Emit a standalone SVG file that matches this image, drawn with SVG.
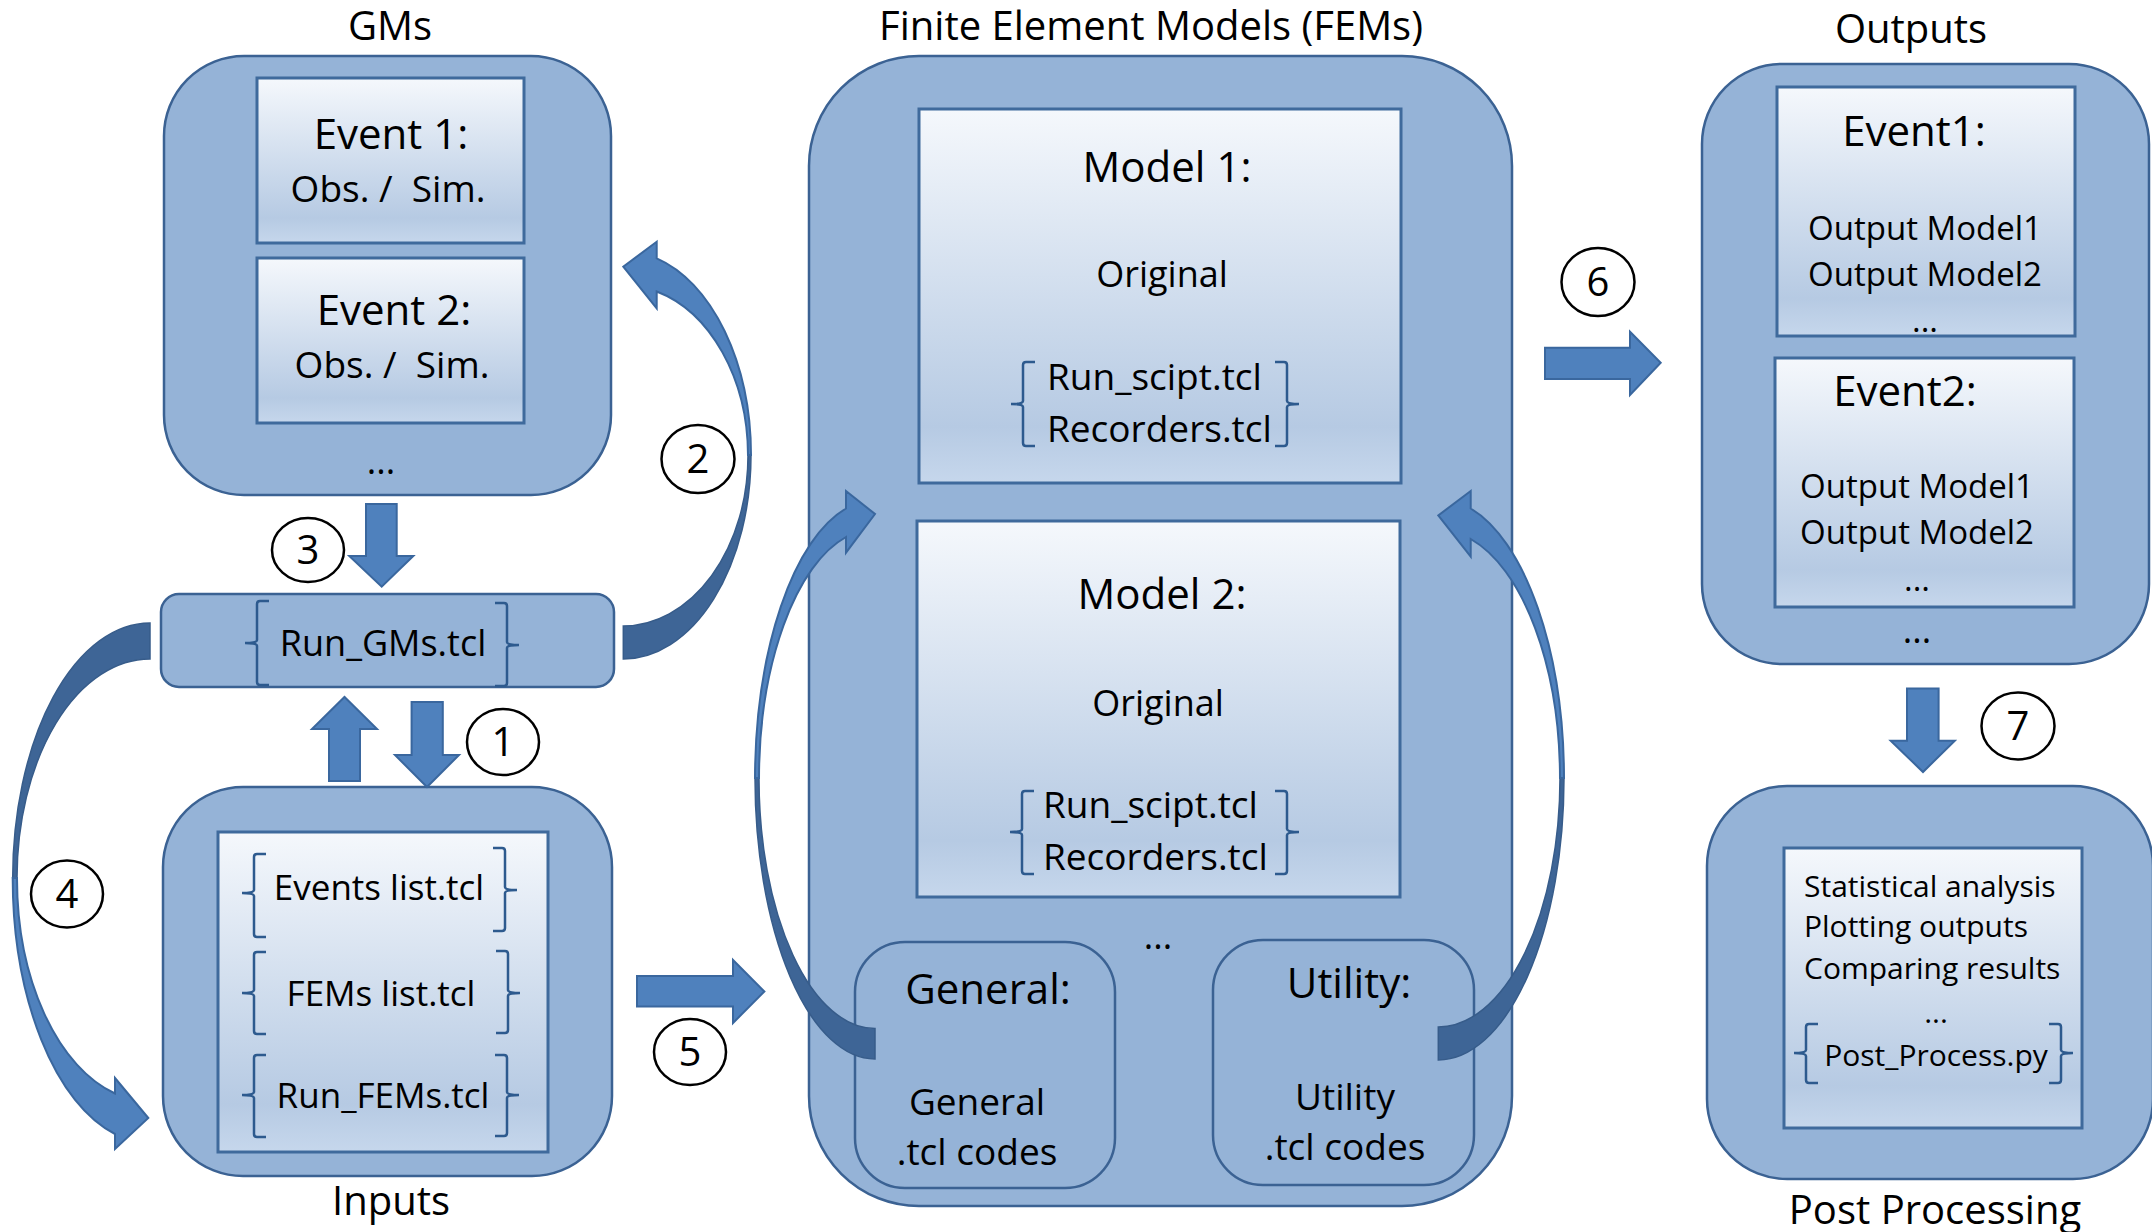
<svg xmlns="http://www.w3.org/2000/svg" width="2152" height="1232" viewBox="0 0 2152 1232">
<defs>
<linearGradient id="inner" x1="0" y1="0" x2="0" y2="1">
<stop offset="0" stop-color="#F5F8FC"/>
<stop offset="0.85" stop-color="#B6CAE3"/>
<stop offset="1" stop-color="#C6D7EC"/>
</linearGradient>
<style>
text{font-family:"Open Sans","Noto Sans","Liberation Sans",sans-serif;fill:#000}
.outer{fill:#95B3D7;stroke:#3B6293;stroke-width:2.5}
.inner{fill:url(#inner);stroke:#3F6A9C;stroke-width:3}
.sub{fill:#95B3D7;stroke:#3B6293;stroke-width:2.5}
.brace{fill:none;stroke:#2D5A8E;stroke-width:2.5}
.blk{fill:#4F81BD;stroke:#3A679E;stroke-width:2}
.dark{fill:#3E6596;stroke:#375C8A;stroke-width:1.5}
.num{fill:#fff;stroke:#000;stroke-width:2.5}
.t40{font-size:40px}
.t42{font-size:42px}
.t37{font-size:37px}
.t36{font-size:36px}
.t35{font-size:35px}
.t33{font-size:33px}
.t30{font-size:30px}
.c{text-anchor:middle}
</style>
</defs>
<rect width="2152" height="1232" fill="#fff"/>

<g id="gms">
<text class="t40 c" x="390" y="40">GMs</text>
<rect class="outer" x="164" y="56" width="447" height="439" rx="80"/>
<rect class="inner" x="257" y="78" width="267" height="165"/>
<text class="t42 c" x="391" y="149">Event 1:</text>
<text class="t37 c" x="388" y="202" xml:space="preserve">Obs. /  Sim.</text>
<rect class="inner" x="257" y="258" width="267" height="165"/>
<text class="t42 c" x="394" y="325">Event 2:</text>
<text class="t37 c" x="392" y="378" xml:space="preserve">Obs. /  Sim.</text>
<text class="t36 c" x="381" y="474">...</text>
</g>

<g id="run_gms">
<rect class="sub" x="161" y="594" width="453" height="93" rx="18"/>
<path class="brace" d="M269,601 L260,601 Q257,601 257,604 L257,640 Q257,643 245,643 Q257,643 257,646 L257,682 Q257,685 260,685 L269,685"/>
<path class="brace" d="M495,603 L504,603 Q507,603 507,606 L507,642 Q507,645 519,645 Q507,645 507,648 L507,683 Q507,686 504,686 L495,686"/>
<text class="t36 c" x="383" y="656">Run_GMs.tcl</text>
</g>

<g id="inputs">
<rect class="outer" x="163" y="787" width="449" height="389" rx="80"/>
<rect class="inner" x="218" y="832" width="330" height="320"/>
<path class="brace" d="M266,854 L257,854 Q254,854 254,857 L254,890 Q254,893 242,893 Q254,893 254,896 L254,934 Q254,937 257,937 L266,937"/>
<path class="brace" d="M493,848 L502,848 Q505,848 505,851 L505,887 Q505,890 517,890 Q505,890 505,893 L505,928 Q505,931 502,931 L493,931"/>
<text class="t35 c" x="379" y="900">Events list.tcl</text>
<path class="brace" d="M266,952 L257,952 Q254,952 254,955 L254,990 Q254,993 242,993 Q254,993 254,996 L254,1031 Q254,1034 257,1034 L266,1034"/>
<path class="brace" d="M496,951 L505,951 Q508,951 508,954 L508,990 Q508,993 520,993 Q508,993 508,996 L508,1030 Q508,1033 505,1033 L496,1033"/>
<text class="t35 c" x="381" y="1006">FEMs list.tcl</text>
<path class="brace" d="M266,1055 L257,1055 Q254,1055 254,1058 L254,1092 Q254,1095 242,1095 Q254,1095 254,1098 L254,1134 Q254,1137 257,1137 L266,1137"/>
<path class="brace" d="M495,1055 L504,1055 Q507,1055 507,1058 L507,1092 Q507,1095 519,1095 Q507,1095 507,1098 L507,1133 Q507,1136 504,1136 L495,1136"/>
<text class="t35 c" x="383" y="1108">Run_FEMs.tcl</text>
<text class="t40 c" x="391" y="1215">Inputs</text>
</g>

<g id="fems">
<text class="t40 c" x="1151" y="40">Finite Element Models (FEMs)</text>
<rect class="outer" x="809" y="56" width="703" height="1150" rx="110"/>
</g>

<g id="model1">
<rect class="inner" x="919" y="109" width="482" height="374"/>
<text class="t42 c" x="1167" y="182">Model 1:</text>
<text class="t36 c" x="1162" y="287">Original</text>
<path class="brace" d="M1035,362 L1026,362 Q1023,362 1023,365 L1023,401 Q1023,404 1011,404 Q1023,404 1023,407 L1023,443 Q1023,446 1026,446 L1035,446"/>
<path class="brace" d="M1275,362 L1284,362 Q1287,362 1287,365 L1287,401 Q1287,404 1299,404 Q1287,404 1287,407 L1287,443 Q1287,446 1284,446 L1275,446"/>
<text class="t37" x="1047" y="390">Run_scipt.tcl</text>
<text class="t37" x="1047" y="442">Recorders.tcl</text>
</g>

<g id="model2">
<rect class="inner" x="917" y="521" width="483" height="376"/>
<text class="t42 c" x="1162" y="609">Model 2:</text>
<text class="t36 c" x="1158" y="716">Original</text>
<path class="brace" d="M1034,791 L1025,791 Q1022,791 1022,794 L1022,829 Q1022,832 1010,832 Q1022,832 1022,835 L1022,871 Q1022,874 1025,874 L1034,874"/>
<path class="brace" d="M1275,791 L1284,791 Q1287,791 1287,794 L1287,829 Q1287,832 1299,832 Q1287,832 1287,835 L1287,871 Q1287,874 1284,874 L1275,874"/>
<text class="t37" x="1043" y="818">Run_scipt.tcl</text>
<text class="t37" x="1043" y="870">Recorders.tcl</text>
</g>

<g id="fems_more">
<text class="t36 c" x="1158" y="949">...</text>
</g>

<g id="general">
<rect class="sub" x="855" y="942" width="260" height="246" rx="50"/>
<text class="t42 c" x="988" y="1004">General:</text>
<text class="t37 c" x="977" y="1115">General</text>
<text class="t37 c" x="977" y="1165">.tcl codes</text>
</g>

<g id="utility">
<rect class="sub" x="1213" y="940" width="261" height="245" rx="50"/>
<text class="t42 c" x="1349" y="998">Utility:</text>
<text class="t37 c" x="1345" y="1110">Utility</text>
<text class="t37 c" x="1345" y="1160">.tcl codes</text>
</g>

<g id="outputs">
<text class="t40 c" x="1911" y="43">Outputs</text>
<rect class="outer" x="1702" y="64" width="447" height="600" rx="80"/>
<rect class="inner" x="1777" y="87" width="298" height="249"/>
<text class="t42 c" x="1914" y="146">Event1:</text>
<text class="t33 c" x="1925" y="240">Output Model1</text>
<text class="t33 c" x="1925" y="286">Output Model2</text>
<text class="t33 c" x="1925" y="332">...</text>
<rect class="inner" x="1775" y="358" width="299" height="249"/>
<text class="t42 c" x="1905" y="406">Event2:</text>
<text class="t33 c" x="1917" y="498">Output Model1</text>
<text class="t33 c" x="1917" y="544">Output Model2</text>
<text class="t33 c" x="1917" y="591">...</text>
<text class="t36 c" x="1917" y="643">...</text>
</g>

<g id="post">
<rect class="outer" x="1707" y="786" width="446" height="393" rx="80"/>
<rect class="inner" x="1784" y="848" width="298" height="280"/>
<text class="t30" x="1804" y="897">Statistical analysis</text>
<text class="t30" x="1804" y="937">Plotting outputs</text>
<text class="t30" x="1804" y="979">Comparing results</text>
<text class="t30 c" x="1936" y="1023">...</text>
<path class="brace" d="M1818,1024 L1809,1024 Q1806,1024 1806,1027 L1806,1050 Q1806,1053 1794,1053 Q1806,1053 1806,1056 L1806,1080 Q1806,1083 1809,1083 L1818,1083"/>
<path class="brace" d="M2049,1024 L2058,1024 Q2061,1024 2061,1027 L2061,1050 Q2061,1053 2073,1053 Q2061,1053 2061,1056 L2061,1080 Q2061,1083 2058,1083 L2049,1083"/>
<text class="t30 c" x="1936" y="1066">Post_Process.py</text>
<text class="t40 c" x="1935" y="1224">Post Processing</text>
</g>

<g id="connectors">
<path class="blk" d="M366,504 H396.7 V556 H413.3 L381.7,586.7 L349.3,556 H366 Z"/>
<path class="blk" d="M411.6,702 H442.8 V755 H459 L427,787 L395,755 H411.6 Z"/>
<path class="blk" d="M329,781 V729 H312 L344.5,697 L377,729 H360 V781 Z"/>
<path class="blk" d="M637,976 H733 V960 L764.4,991.5 L733,1023 V1006.4 H637 Z"/>
<path class="blk" d="M1545,347.7 H1630 V331.7 L1660.7,362.7 L1630,395 V379 H1545 Z"/>
<path class="blk" d="M1907,688.6 H1938.6 V740.7 H1954.8 L1923,772 L1890.7,740.7 H1907 Z"/>

<path class="dark" d="M623.3,626 A125,170.5 0 0 0 748,455 L751,455 A128,204 0 0 1 623.3,659 Z"/>
<path class="blk" d="M656.7,241.7 L623.3,266.7 L656.7,308.3 L656.7,291.5 A125,170.5 0 0 1 748,455 L751,455 A128,204 0 0 0 656.7,258.3 Z"/>

<path class="dark" d="M150,623 A137.3,255 0 0 0 12.7,878 L17,878 A133,219 0 0 1 150,659 Z"/>
<path class="blk" d="M115,1078 L148.3,1118 L115,1149 L115,1134 A137.3,264.7 0 0 1 12.7,878 L17,878 A133,223 0 0 0 115,1093.5 Z"/>

<path class="dark" d="M875,1028.5 A116,250 0 0 1 759,778 L755,778 A120,281 0 0 0 875,1059 Z"/>
<path class="blk" d="M846,491 L875,514 L846,552.7 L846,537 A116,250 0 0 0 759,778 L755,778 A120,280 0 0 1 846,508.5 Z"/>

<path class="dark" d="M1438.3,1027 A122,249 0 0 0 1560,778 L1564,778 A126,282 0 0 1 1438.3,1060 Z"/>
<path class="blk" d="M1470.7,491 L1438.3,515.4 L1470.7,556.5 L1470.7,539 A122,249 0 0 1 1560,778 L1564,778 A126,280 0 0 0 1470.7,508.5 Z"/>

<ellipse class="num" cx="503" cy="742" rx="36" ry="33"/>
<text class="t40 c" x="503" y="756">1</text>
<ellipse class="num" cx="698" cy="459" rx="36.5" ry="34"/>
<text class="t40 c" x="698" y="473">2</text>
<ellipse class="num" cx="308" cy="550" rx="36" ry="32"/>
<text class="t40 c" x="308" y="564">3</text>
<ellipse class="num" cx="67" cy="894" rx="36" ry="33.5"/>
<text class="t40 c" x="67" y="908">4</text>
<ellipse class="num" cx="690" cy="1052" rx="36" ry="33"/>
<text class="t40 c" x="690" y="1066">5</text>
<ellipse class="num" cx="1598" cy="282" rx="36.5" ry="34"/>
<text class="t40 c" x="1598" y="296">6</text>
<ellipse class="num" cx="2018" cy="726" rx="36.5" ry="33.5"/>
<text class="t40 c" x="2018" y="740">7</text>
</g>
</svg>
